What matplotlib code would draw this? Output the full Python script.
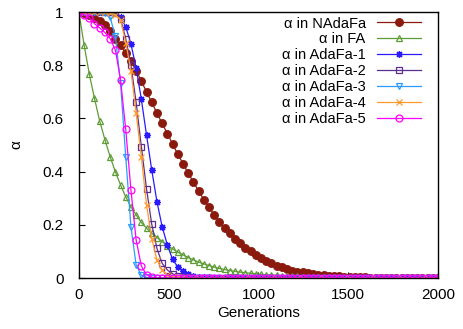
import numpy as np
import matplotlib
matplotlib.use("Agg")
import matplotlib.pyplot as plt

plt.rcParams['font.family'] = ['Liberation Sans', 'DejaVu Sans']

# generations sampled (70 points from 0 to 2000)
gens = np.linspace(0, 2000, 70)

nadafa = [1.0, 0.995, 0.99, 0.979, 0.966, 0.95, 0.93, 0.90, 0.875, 0.845,
          0.815, 0.78, 0.74, 0.70, 0.66, 0.62, 0.581, 0.543, 0.504, 0.466,
          0.43, 0.394, 0.361, 0.327, 0.295, 0.266, 0.237, 0.212, 0.189, 0.168,
          0.148, 0.13, 0.114, 0.10, 0.086, 0.075, 0.065, 0.055, 0.046, 0.04,
          0.033, 0.028, 0.024, 0.021, 0.018, 0.015, 0.013, 0.011, 0.009, 0.007,
          0.006, 0.005, 0.004, 0.003, 0.002, 0.002, 0.001]
fa = [1.0, 0.876, 0.767, 0.675, 0.59, 0.52, 0.456, 0.40, 0.35, 0.305,
      0.268, 0.237, 0.209, 0.187, 0.168, 0.152, 0.137, 0.122, 0.11, 0.097,
      0.087, 0.077, 0.068, 0.06, 0.053, 0.047, 0.041, 0.036, 0.032, 0.028,
      0.025, 0.022, 0.02, 0.018, 0.016, 0.014, 0.012, 0.011, 0.01, 0.009,
      0.008, 0.007, 0.006, 0.005, 0.004, 0.004, 0.003, 0.003, 0.002, 0.002,
      0.001]
ada1 = [1.0, 1.0, 1.0, 1.0, 1.0, 1.0, 1.0, 0.995, 0.98, 0.945,
        0.88, 0.79, 0.672, 0.537, 0.406, 0.287, 0.193, 0.124, 0.07, 0.042,
        0.026, 0.015, 0.009, 0.005, 0.003, 0.002, 0.001]
ada2 = [1.0, 1.0, 1.0, 1.0, 1.0, 1.0, 1.0, 0.995, 0.975, 0.90,
        0.80, 0.66, 0.494, 0.335, 0.202, 0.111, 0.055, 0.03, 0.016, 0.008,
        0.004, 0.002, 0.001]
ada3 = [1.0, 1.0, 1.0, 1.0, 1.0, 0.995, 0.98, 0.91, 0.734, 0.456,
        0.193, 0.049, 0.01, 0.002]
ada4 = [1.0, 1.0, 1.0, 1.0, 1.0, 1.0, 0.995, 0.99, 0.97, 0.885,
        0.78, 0.62, 0.455, 0.275, 0.148, 0.068, 0.03, 0.012, 0.005, 0.002]
ada5 = [1.0, 0.99, 0.978, 0.956, 0.94, 0.923, 0.90, 0.858, 0.746, 0.559,
        0.331, 0.143, 0.045, 0.012, 0.003]


def pad(vals):
    # curves sit at zero after the listed values
    return vals + [0.0] * (len(gens) - len(vals))


series = [
    (nadafa, "α in NAdaFa", "#8b1a0e", "o", "full"),
    (fa, "α in FA", "#5e9c36", "^", "none"),
    (ada1, "α in AdaFa-1", "#2b1aff", (8, 2, 0), "full"),
    (ada2, "α in AdaFa-2", "#5c2d91", "s", "none"),
    (ada3, "α in AdaFa-3", "#2c9bff", "v", "none"),
    (ada4, "α in AdaFa-4", "#ff9a2e", "x", "full"),
    (ada5, "α in AdaFa-5", "#ff00ff", "o", "none"),
]

fs = 11

fig = plt.figure(figsize=(4.64, 3.29), dpi=100)
ax = fig.add_axes([0.170, 0.155, 0.774, 0.8085])

for vals, lab, col, mk, fill in series:
    ms = 5.5 if lab == "α in NAdaFa" else 5
    ax.plot(gens, pad(vals), color=col, lw=0.9, marker=mk, ms=ms,
            fillstyle=fill, mew=0.9, label=lab)

ax.set_xlim(0, 2000)
ax.set_ylim(0, 1)
ax.set_xticks([0, 500, 1000, 1500, 2000])
ax.set_yticks([0, 0.2, 0.4, 0.6, 0.8, 1])
ax.set_yticklabels(["0", "0.2", "0.4", "0.6", "0.8", "1"])
ax.tick_params(direction="in", labelsize=fs, length=4)
ax.tick_params(axis="y", pad=11)
ax.tick_params(axis="x", pad=7)
for s in ax.spines.values():
    s.set_linewidth(1.0)

ax.set_xlabel("Generations", fontsize=fs, labelpad=3)
ax.set_ylabel("α", fontsize=fs)
ax.yaxis.set_label_coords(-0.155, 0.5)

ax.legend(loc="upper right", bbox_to_anchor=(0.953, 0.983),
          markerfirst=False, frameon=False, fontsize=10.5,
          handlelength=3.0, labelspacing=0.13, handletextpad=0.8,
          borderpad=0, borderaxespad=0)

fig.savefig("out.png", dpi=100)
